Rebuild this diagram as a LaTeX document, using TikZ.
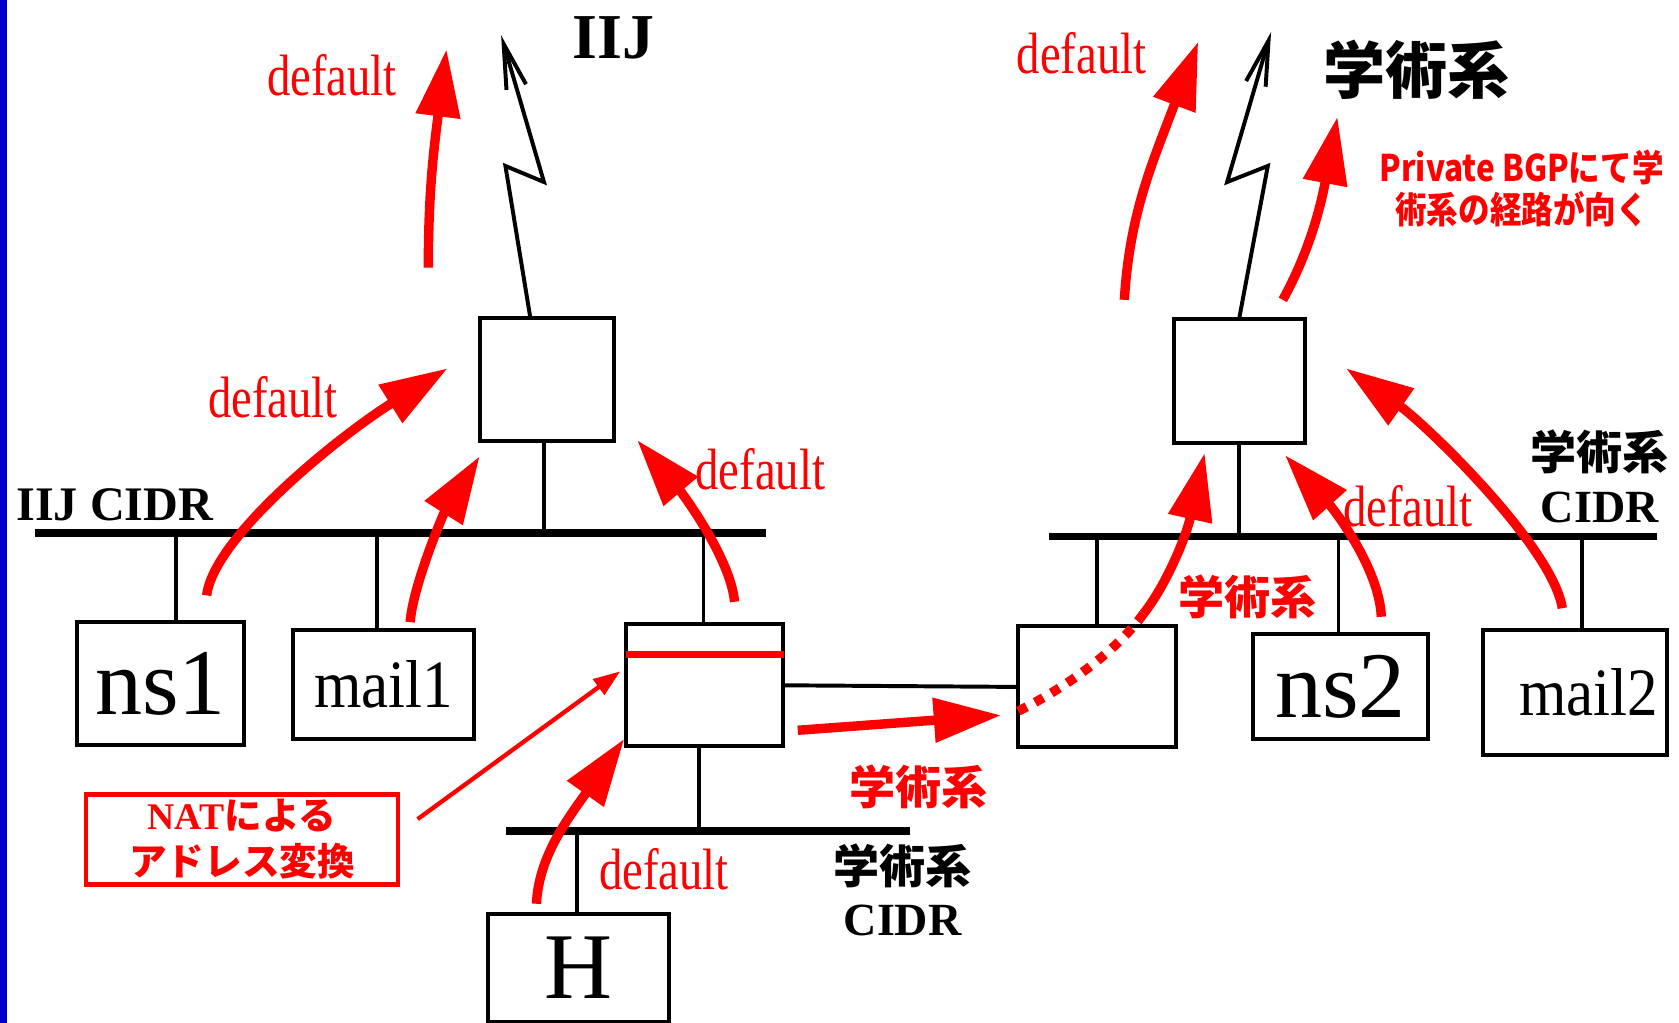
\documentclass[tikz,border=0pt]{standalone}
\usepackage{fontspec}
\setmainfont{Liberation Serif}
\newfontfamily\jp{Noto Sans CJK JP}
\newfontfamily\jpnarrow{Noto Sans CJK JP}[FakeStretch=0.86]
\newfontfamily\narrowrm{Liberation Serif}[FakeStretch=0.8]
\newfontfamily\mailrm{Liberation Serif}[FakeStretch=0.9]
\usetikzlibrary{arrows.meta,calc,positioning}
\definecolor{sidebar}{RGB}{0,0,204}

\begin{document}
\begin{tikzpicture}
	[x=0.02cm,y=-0.02cm,
	box/.style={draw,line width=2.1pt,inner sep=0pt},
	bus/.style={line width=4.2pt},
	stub/.style={line width=2.1pt},
	bolt/.style={line width=2.1pt,-{Straight Barb[length=0.84cm,width=0.38cm]}},
	route/.style={red,line width=5pt,-{Triangle[length=1.26cm,width=0.8cm]}},
	dflt/.style={text=red,font=\narrowrm\fontsize{31}{36}\selectfont},
	cidr/.style={align=center,font=\bfseries\fontsize{24.5}{28}\selectfont},
	big/.style={font=\fontsize{50}{50}\selectfont}]
	\useasboundingbox (0,0) rectangle (1568,955);
	\fill[sidebar] (0,0) rectangle (7,955);

	% segments
	\coordinate (iijL) at (33,498);
	\coordinate (iijR) at (715,498);
	\coordinate (acL) at (473,776);
	\coordinate (acR) at (850,776);
	\coordinate (ac2L) at (980,501);
	\coordinate (ac2R) at (1547,501);
	\draw[bus] (iijL) -- (iijR);
	\draw[bus] (acL) -- (acR);
	\draw[bus] (ac2L) -- (ac2R);

	% routers and hosts
	\node[box,minimum width=2.5cm,minimum height=2.3cm] (iijr) at (510.5,354.5) {};
	\node[box,minimum width=2.92cm,minimum height=2.28cm] (natr) at (658,640) {};
	\node[box,big,minimum width=3.12cm,minimum height=2.3cm] (ns1) at (150,638.5) {ns1};
	\node[box,minimum width=3.38cm,minimum height=2.04cm,font=\mailrm\fontsize{36}{36}\selectfont] (mail1) at (358.5,639) {mail1};
	\node[box,big,minimum width=3.38cm,minimum height=2.02cm] (h) at (540.5,904) {H};
	\node[box,minimum width=2.46cm,minimum height=2.32cm] (acr) at (1157.5,356) {};
	\node[box,minimum width=2.94cm,minimum height=2.26cm] (gw) at (1024.5,641.5) {};
	\node[box,big,minimum width=3.28cm,minimum height=1.96cm] (ns2) at (1252,641) {ns2};
	\node[box,minimum width=3.44cm,minimum height=2.34cm,font=\mailrm\fontsize{36}{36}\selectfont,
		text width=3.1cm,align=right] (mail2) at (1471,646.5) {mail2};

	% drops onto the segments
	\foreach \n/\a/\dx/\b in {ns1/north/14/iijL,mail1/north/-6.5/iijL,natr/north/-1/iijL,
		iijr/south/-2.5/iijL,natr/south/-5/acL,h/north/-1.5/acL,
		acr/south/0/ac2L,gw/north/0/ac2L,ns2/north/-2/ac2L,mail2/north/6/ac2L}
	\draw[stub] ($(\n.\a)+(\dx,0)$) coordinate (t) -- (t |- \b);
	\draw[stub] (natr.east) -- (gw.west);
	\draw[red,line width=3.4pt] ($(natr.north west)+(1,30)$) -- ($(natr.north east)+(-1,30)$);

	% uplinks
	\coordinate (iijup) at (468,33);
	\coordinate (acup) at (1187,30);
	\draw[bolt] ($(iijr.north)+(-15.5,0)$) -- (472,155) -- (508,170) -- (iijup);
	\draw[bolt] (acr.north) -- (1184,155) -- (1146,170) -- (acup);

	% routes
	\draw[route] (400,250) .. controls (400,180) and (405,140) .. (417,46);
	\draw[route] (193,556) .. controls (200,500) and (320,405) .. (418,344);
	\draw[route] (383,581) .. controls (386,545) and (415,478) .. (448,426);
	\draw[route] (686,562) .. controls (682,520) and (635,458) .. (595,411);
	\draw[route] (501,844) .. controls (503,800) and (530,765) .. (583,690);
	\draw[route] (745,682) -- (935,668);
	\draw[red,line width=5pt,dash pattern=on 5pt off 5pt] (951,664) .. controls (1000,640) and (1045,605) .. (1068,573);
	\draw[route] (1068,573) .. controls (1090,545) and (1108,500) .. (1125,423);
	\draw[route] (1290,576) .. controls (1288,530) and (1245,475) .. (1200,425);
	\draw[route] (1459,568) .. controls (1450,510) and (1330,395) .. (1257,344);
	\draw[route] (1050,280) .. controls (1055,200) and (1075,155) .. (1119,39);
	\draw[route] (1198,280) .. controls (1220,240) and (1232,200) .. (1249,109);

	% labels
	\node[font=\bfseries\fontsize{34}{34}\selectfont] (iij) at (573,35) {IIJ};
	\node[font=\jp\bfseries\fontsize{33}{33}\selectfont] (acad) at (1323,65) {学術系};
	\node[font=\bfseries\fontsize{25.6}{28}\selectfont,anchor=west,inner sep=0pt] (iijcidr) at (15,471) {IIJ CIDR};
	\node[cidr] (accidr) at (843,831) {{\jp 学術系}\\CIDR};
	\node[cidr] (ac2cidr) at (1494,445) {{\jp 学術系}\\CIDR};
	\node[dflt] (d1) at (310,70) {default};
	\node[dflt] (d2) at (255,371) {default};
	\node[dflt] (d3) at (710,438) {default};
	\node[dflt] (d4) at (620,812) {default};
	\node[dflt] (d5) at (1010,50) {default};
	\node[dflt] (d6) at (1315,473) {default};
	\node[text=red,font=\jp\bfseries\fontsize{24.5}{24.5}\selectfont] (via1) at (858,735) {学術系};
	\node[text=red,font=\jp\bfseries\fontsize{24.5}{24.5}\selectfont] (via2) at (1165,557) {学術系};
	\node[text=red,align=center,font=\jpnarrow\bfseries\fontsize{19.5}{22.8}\selectfont] (bgp) at (1421,176) {Private BGPにて学\\術系の経路が向く};

	% address translation note
	\node[draw=red,line width=2.3pt,text=red,inner sep=0pt,minimum width=5.84cm,minimum height=1.68cm,
		align=center,font=\bfseries\fontsize{20}{24.5}\selectfont] (natlbl) at (226,784) {NAT{\jp による}\\{\jp アドレス変換}};
	\draw[red,line width=2.3pt,-{Triangle[length=0.5cm,width=0.35cm]}] ($(natlbl.east)+(16,-19)$) -- ($(natr.west)+(-4,-13)$);
\end{tikzpicture}
\end{document}
